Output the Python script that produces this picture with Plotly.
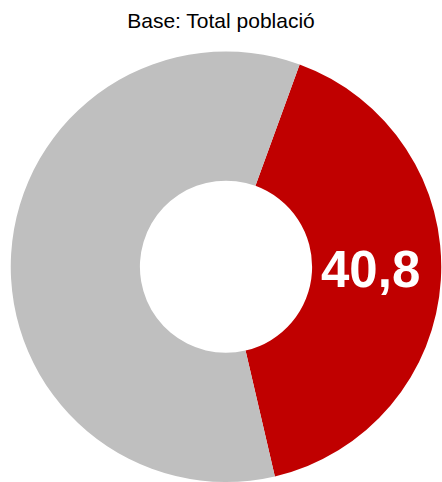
import plotly.graph_objects as go

labels = ["Sí", "No"]
values = [40.8, 59.2]
colors = ["#C00000", "#BFBFBF"]
title_text = "Base: Total població"

W, H = 442, 482

fig = go.Figure()
fig.add_trace(go.Pie(
    labels=labels,
    values=values,
    hole=0.40,
    sort=False,
    direction="clockwise",
    rotation=20,
    marker=dict(colors=colors, line=dict(width=0)),
    textinfo="none",
    hoverinfo="skip",
    showlegend=False,
    domain=dict(x=[10.5 / W, 441.5 / W], y=[0, 1 - 51.5 / H]),
))

label_text = f"{values[0]:.1f}".replace(".", ",")
fig.add_annotation(
    text=f"<b>{label_text}</b>",
    x=370 / W, y=1 - 269 / H, xref="paper", yref="paper",
    xanchor="center", yanchor="middle", showarrow=False,
    font=dict(family="Arial, Liberation Sans, sans-serif", size=51, color="white"),
)

fig.update_layout(
    width=W, height=H,
    margin=dict(l=0, r=0, t=0, b=0),
    paper_bgcolor="white", plot_bgcolor="white",
    title=dict(text=title_text, x=0.5, xref="paper", y=1 - 21 / H, yref="container",
               xanchor="center", yanchor="middle",
               font=dict(family="Arial, Liberation Sans, sans-serif", size=21, color="black")),
)

fig.write_html("out.html",
               config={"displayModeBar": False, "staticPlot": True},
               post_script="document.body.style.margin='0';document.body.style.overflow='hidden';")
